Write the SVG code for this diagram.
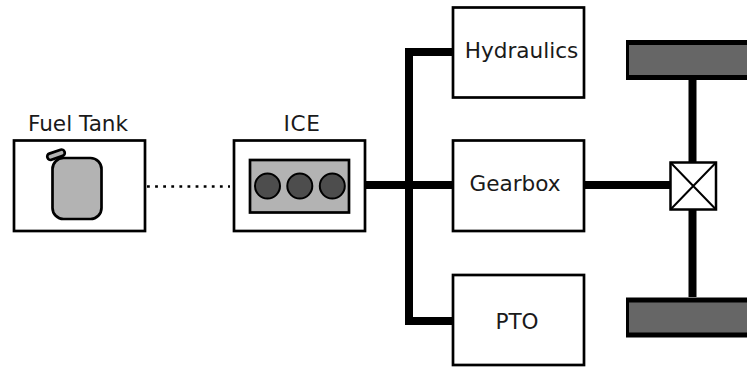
<svg xmlns="http://www.w3.org/2000/svg" width="747" height="370" viewBox="0 0 747 370">
<style>
.box{fill:#fff;stroke:#000;stroke-width:2.7}
.label{font-family:"DejaVu Sans",sans-serif;font-size:21.6px;fill:#1a1a1a;text-anchor:middle}
.shaft{fill:none;stroke:#000;stroke-width:8}
.tyre{fill:#000}
.hub{fill:#666}
.part{fill:#b3b3b3;stroke:#000;stroke-width:2.7}
.cyl{fill:#4d4d4d;stroke:#000;stroke-width:2}
</style>
<rect width="747" height="370" fill="#fff"/>
<g id="connectors">
<path class="shaft" d="M365 185H453M409 321V52"/>
<path class="shaft" d="M405 52H453M405 321H453"/>
<path class="shaft" d="M584 185H670"/>
<path class="shaft" d="M692.500 80V162M692.500 210V297"/>
<path d="M147 186.500H230" fill="none" stroke="#000" stroke-width="2.500" stroke-dasharray="2.800 5.300"/>
</g>
<g id="fuel-tank">
<rect class="box" x="14" y="140.500" width="131" height="90.500"/>
<rect class="part" x="52.500" y="158" width="49" height="61" rx="11"/>
<rect class="part" x="47" y="151.500" width="18" height="6.500" rx="3" transform="rotate(-19 56 154.700)"/>
<text class="label" x="78" y="131">Fuel Tank</text>
</g>
<g id="ice">
<rect class="box" x="234" y="140.500" width="131" height="90.500"/>
<rect class="part" x="250" y="160" width="99" height="52.500"/>
<circle class="cyl" cx="267.500" cy="186" r="12.500"/>
<circle class="cyl" cx="299.800" cy="186" r="12.500"/>
<circle class="cyl" cx="332.300" cy="186" r="12.500"/>
<text class="label" x="302" y="130.500" letter-spacing="0.600">ICE</text>
</g>
<g id="hydraulics">
<rect class="box" x="453" y="7.500" width="131" height="90"/>
<text class="label" x="521.500" y="58">Hydraulics</text>
</g>
<g id="gearbox">
<rect class="box" x="453" y="140.500" width="131" height="90.500"/>
<text class="label" x="515" y="191">Gearbox</text>
</g>
<g id="pto">
<rect class="box" x="453" y="275" width="131" height="90"/>
<text class="label" x="517" y="329">PTO</text>
</g>
<g id="wheel-top">
<rect class="tyre" x="626" y="40" width="121" height="40"/>
<rect class="hub" x="629" y="45" width="118" height="30"/>
</g>
<g id="wheel-bottom">
<rect class="tyre" x="626" y="297.500" width="121" height="40"/>
<rect class="hub" x="629" y="302.500" width="118" height="30"/>
</g>
<g id="differential">
<rect x="670.500" y="162.500" width="45.500" height="47" fill="#fff" stroke="#000" stroke-width="2.500"/>
<path d="M670.500 162.500L716 209.500M716 162.500L670.500 209.500" fill="none" stroke="#000" stroke-width="2"/>
</g>
</svg>
